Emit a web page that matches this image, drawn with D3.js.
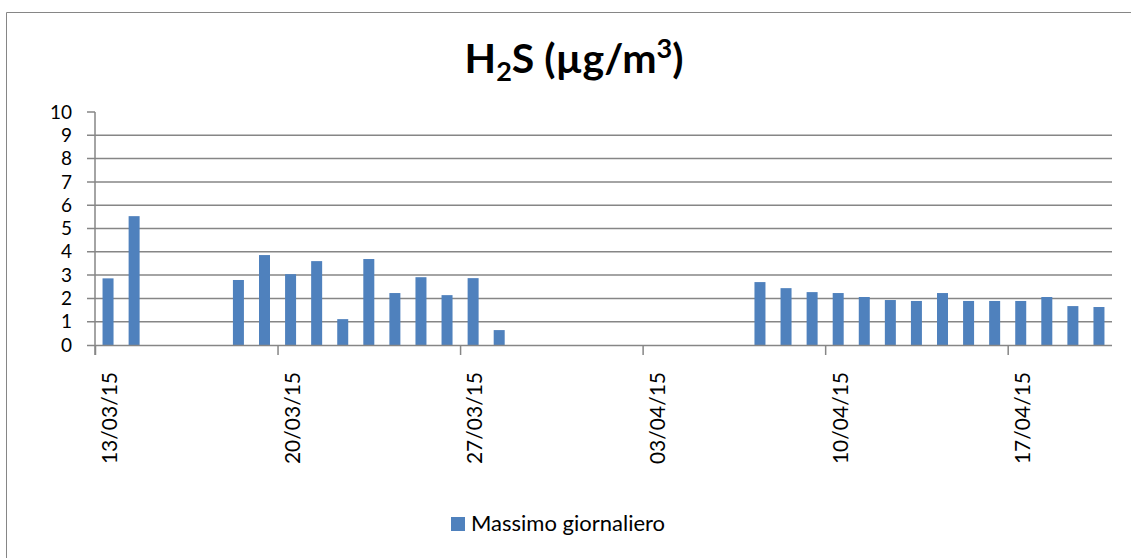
<!DOCTYPE html>
<html>
<head>
<meta charset="utf-8">
<script src="https://cdn.jsdelivr.net/npm/d3@7"></script>
<style>
  html, body { margin: 0; padding: 0; background: #fff; }
  svg { display: block; }
  text { font-family: Lato, "Open Sans", sans-serif; fill: #000; }
</style>
</head>
<body>
<div id="chart"></div>
<script>
// ---- data ----
const dates = ["2015-03-13","2015-03-14","2015-03-18","2015-03-19","2015-03-20","2015-03-21","2015-03-22","2015-03-23","2015-03-24","2015-03-25","2015-03-26","2015-03-27","2015-03-28",
  "2015-04-07","2015-04-08","2015-04-09","2015-04-10","2015-04-11","2015-04-12","2015-04-13","2015-04-14","2015-04-15","2015-04-16","2015-04-17","2015-04-18","2015-04-19","2015-04-20"];
const values = [2.86,5.53,2.79,3.86,3.04,3.6,1.11,3.69,2.23,2.91,2.14,2.87,0.64,
  2.7,2.44,2.27,2.23,2.06,1.93,1.89,2.23,1.89,1.89,1.89,2.06,1.67,1.63];
const tickDates = ["2015-03-13","2015-03-20","2015-03-27","2015-04-03","2015-04-10","2015-04-17"];
const yTicks = [0,1,2,3,4,5,6,7,8,9,10];
const seriesName = "Massimo giornaliero";
const domainStart = "2015-03-13", domainEnd = "2015-04-21";

// ---- layout ----
const W = 1131, H = 558;
const parse = d3.utcParse("%Y-%m-%d");
const fmt = d3.utcFormat("%d/%m/%y");
const DAY = 864e5;

const svg = d3.select("#chart").append("svg").attr("width", W).attr("height", H);

// outer border
svg.append("path").attr("d", `M6.5,${H+2}V12.5H${W+2}`).attr("fill","none").attr("stroke","#868686").attr("stroke-width",1);

const x = d3.scaleUtc().domain([parse(domainStart), parse(domainEnd)]).range([95, 1112]);
const y = d3.scaleLinear().domain([0, 10]).range([345, 112]);

// gridlines 1..9 with left tick
const grid = svg.append("g");
grid.selectAll("line").data(yTicks.filter(d => d > 0 && d < 10)).join("line")
  .attr("x1", 87).attr("x2", 1112)
  .attr("y1", d => y(d)).attr("y2", d => y(d))
  .attr("stroke", "#868686").attr("stroke-width", 1.5);
// tick at 10
svg.append("line").attr("x1",87).attr("x2",95).attr("y1",y(10)).attr("y2",y(10)).attr("stroke","#868686").attr("stroke-width",1.5);

// y labels
svg.append("g").selectAll("text").data(yTicks).join("text")
  .attr("x", 72).attr("y", d => y(d)).attr("dy", "0.35em")
  .attr("text-anchor", "end").attr("font-size", 19).text(d => d);

// bars
const bw = 11;
svg.append("g").selectAll("rect").data(dates.map((d,i)=>({d:parse(d), v:values[i]}))).join("rect")
  .attr("x", d => x(new Date(+d.d + DAY/2)) - bw/2)
  .attr("width", bw)
  .attr("y", d => y(d.v))
  .attr("height", d => y(0) - y(d.v))
  .attr("fill", "#4F81BD");

// y axis line
svg.append("line").attr("x1",95).attr("x2",95).attr("y1",112).attr("y2",355).attr("stroke","#868686").attr("stroke-width",1.5);

// x axis
const xAxis = d3.axisBottom(x).tickValues(tickDates.map(parse)).tickSize(10).tickFormat("");
const gx = svg.append("g").attr("transform", `translate(0,${y(0)})`).call(xAxis);
gx.select(".domain").attr("d", `M87,0.5H1112`).attr("stroke","#868686").attr("stroke-width",1.5);
gx.selectAll(".tick line").attr("stroke","#868686").attr("stroke-width",1.5);

// x labels (rotated, centered on day)
svg.append("g").selectAll("text").data(tickDates.map(parse)).join("text")
  .attr("transform", d => `translate(${x(new Date(+d + DAY/2)) + 2},372) rotate(-90)`)
  .attr("text-anchor", "end").attr("dy", "0.35em")
  .attr("font-size", 21).text(d => fmt(d));

// title
const title = svg.append("text").attr("x", 574).attr("y", 73).attr("text-anchor","middle")
  .attr("font-size", 41).attr("font-weight","bold");
title.append("tspan").text("H");
title.append("tspan").attr("font-size", 27).attr("dy", 8).text("2");
title.append("tspan").attr("dy", -8).text("S (µg/m");
title.append("tspan").attr("font-size", 27).attr("dy", -15).text("3");
title.append("tspan").attr("dy", 15).text(")");

// legend
svg.append("rect").attr("x",451).attr("y",517).attr("width",14).attr("height",14).attr("fill","#4F81BD");
svg.append("text").attr("x",471).attr("y",531).attr("font-size",22).text(seriesName);
</script>
</body>
</html>
